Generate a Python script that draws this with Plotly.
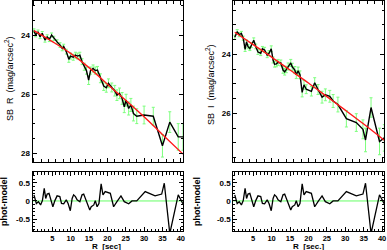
import plotly.graph_objects as go

# ---------------- data ----------------
# R band (left panel)
r_R = [0.0, 0.45, 1.1, 1.65, 2.25, 3.0, 3.6, 4.2, 4.8, 5.4, 6.3, 7.1, 7.7, 8.1, 8.8,
       9.5, 9.95, 10.7, 11.3, 11.9, 12.5, 13.1, 13.7, 14.3, 14.9, 15.4, 16.1, 16.7,
       17.3, 18.1, 19.0, 19.7, 20.3, 21.2, 22.0, 22.6, 23.3, 24.0, 24.6, 25.1, 25.8,
       26.4, 27.1, 28.0, 30.0, 32.5, 35.0, 37.0, 39.3, 40.6]
sb_R = [23.85, 24.0, 23.89, 24.06, 23.94, 24.17, 24.06, 24.15, 24.0, 24.11, 24.23,
        24.34, 24.45, 24.39, 24.56, 24.82, 24.71, 24.75, 24.68, 24.71, 24.68, 24.9,
        25.07, 25.2, 25.52, 25.2, 25.13, 25.2, 25.18, 25.46, 25.72, 25.78, 25.63,
        25.77, 25.88, 26.03, 25.97, 26.14, 26.42, 26.2, 26.48, 26.36, 26.65, 26.74,
        26.7, 26.74, 27.74, 26.94, 27.44, 27.44]
err_R = [0.06, 0.06, 0.06, 0.06, 0.06, 0.07, 0.07, 0.07, 0.07, 0.07, 0.07, 0.08, 0.08,
         0.08, 0.08, 0.1, 0.1, 0.1, 0.1, 0.1, 0.1, 0.1, 0.12, 0.12, 0.15, 0.12, 0.12,
         0.12, 0.12, 0.15, 0.15, 0.15, 0.15, 0.15, 0.18, 0.18, 0.18, 0.2, 0.2, 0.2,
         0.22, 0.22, 0.25, 0.25, 0.3, 0.3, 0.38, 0.35, 0.45, 0.45]

# I band (right panel)
r_I = [0.0, 0.65, 1.2, 1.8, 2.3, 2.8, 3.2, 3.6, 4.1, 4.5, 5.15, 5.7, 6.3, 7.05, 7.5,
       8.1, 8.8, 9.3, 9.9, 10.4, 10.8, 11.3, 11.75, 12.5, 13.1, 13.55, 14.0, 14.5,
       15.2, 15.6, 16.3, 16.7, 17.2, 17.7, 18.3, 18.8, 19.4, 20.8, 21.7, 22.6, 23.7,
       24.6, 25.8, 26.7, 28.0, 30.3, 33.0, 34.8, 35.5, 37.0, 39.3, 40.6]
sb_I = [23.42, 23.23, 23.33, 23.29, 23.45, 23.83, 23.58, 23.74, 23.80, 23.69, 23.52,
        23.73, 23.92, 23.96, 23.81, 23.85, 24.02, 23.96, 23.81, 24.19, 24.33, 24.32,
        24.27, 24.29, 24.53, 24.59, 24.51, 24.41, 24.29, 24.42, 24.53, 24.69, 24.56,
        24.69, 25.29, 25.03, 25.18, 25.25, 24.96, 25.19, 25.45, 25.37, 25.42, 25.58,
        25.70, 26.18, 26.31, 26.54, 26.90, 25.80, 26.95, 26.83]
err_I = [0.07, 0.07, 0.07, 0.07, 0.07, 0.07, 0.07, 0.07, 0.07, 0.08, 0.08, 0.08, 0.08,
         0.08, 0.08, 0.09, 0.09, 0.09, 0.1, 0.1, 0.1, 0.1, 0.1, 0.1, 0.11, 0.11, 0.11,
         0.12, 0.12, 0.12, 0.12, 0.13, 0.13, 0.13, 0.15, 0.15, 0.15, 0.16, 0.17, 0.17,
         0.2, 0.2, 0.2, 0.22, 0.25, 0.28, 0.3, 0.32, 0.4, 0.33, 0.45, 0.45]

# residuals (phot - model); identical in both lower panels of the reference
resid = [0.17, -0.07, -0.02, -0.11, 0.01, 0.35, 0.07, 0.19, 0.21, 0.07, -0.16, 0.01,
         0.14, 0.12, -0.07, -0.08, 0.03, -0.07, -0.27, 0.07, 0.17, 0.12, 0.03, -0.02,
         0.17, 0.19, 0.07, -0.07, -0.25, -0.16, -0.11, 0.01, -0.16, -0.07, 0.47, 0.17,
         0.26, 0.21, -0.16, -0.02, 0.14, -0.02, -0.08, 0.0, 0.0, 0.26, 0.14, 0.19, 0.49,
         -0.9, 0.17, -0.08]

# model profiles
r_model = [0, 5, 10, 15, 20, 25, 30, 35, 40.6]
model_R = [23.85, 24.22, 24.62, 25.1, 25.66, 26.2, 26.76, 27.36, 28.02]
model_I = [23.25, 23.67, 24.09, 24.53, 24.97, 25.43, 25.89, 26.36, 26.91]

x_ticks = [5, 10, 15, 20, 25, 30, 35, 40]
x_ticktext = ["5", "10", "15", "20", "25", "30", "35", "40"]
res_ticks = [-0.5, 0, 0.5]
res_ticktext = ["-0.5", "0", "0.5"]

# ---------------- styling ----------------
W, H = 387, 250
FONT = "Liberation Sans, Arial, Helvetica, sans-serif"
GREEN_ERR = "#7dff7d"
GREEN_LINE = "#66ff66"

def px_x(p):
    return p / W

def px_y(p):
    return 1 - p / H

XRANGE = [-0.4, 40.6]
dom_left = [px_x(32.5), px_x(183)]
dom_right = [px_x(233.3), px_x(384.3)]
dom_top = [px_y(161.5), px_y(1)]
dom_bot = [px_y(231), px_y(172)]

tickfont = dict(family=FONT, size=8, color="black", weight="bold")
xtickfont = dict(family=FONT, size=7.5, color="black", weight="bold")

def base_axis(**kw):
    d = dict(showline=True, linecolor="black", linewidth=1, mirror="allticks",
             ticks="inside", ticklen=4, tickwidth=1, tickcolor="black",
             showgrid=False, zeroline=False, tickfont=tickfont, automargin=False)
    d.update(kw)
    return d

fig = go.Figure()

def add_panel(r, sb, err, rm, model, xa, ya):
    fig.add_trace(go.Scatter(x=r, y=sb, mode="markers",
                             marker=dict(size=1, color="rgba(0,0,0,0)"),
                             error_y=dict(type="data", array=err, visible=True,
                                          color=GREEN_ERR, thickness=1, width=1.5),
                             xaxis=xa, yaxis=ya, showlegend=False, hoverinfo="skip"))
    fig.add_trace(go.Scatter(x=r, y=sb, mode="lines",
                             line=dict(color="black", width=1.4),
                             xaxis=xa, yaxis=ya, showlegend=False))
    fig.add_trace(go.Scatter(x=rm, y=model, mode="lines",
                             line=dict(color="#ff1a1a", width=1.4, shape="spline"),
                             xaxis=xa, yaxis=ya, showlegend=False))

add_panel(r_R, sb_R, err_R, r_model, model_R, "x", "y")
add_panel(r_I, sb_I, err_I, r_model, model_I, "x3", "y3")

for xa, ya in (("x2", "y2"), ("x4", "y4")):
    fig.add_shape(type="line", xref=xa + " domain", yref=ya, x0=0, x1=1, y0=0, y1=0,
                  line=dict(color=GREEN_LINE, width=1), layer="below")
    fig.add_trace(go.Scatter(x=r_I, y=resid, mode="lines",
                             line=dict(color="black", width=1.3),
                             xaxis=xa, yaxis=ya, showlegend=False))

top_x = dict(range=XRANGE, tickmode="linear", tick0=0, dtick=10, showticklabels=False,
             minor=dict(dtick=2, tick0=0, ticklen=2.5, ticks="inside", tickcolor="black"))
bot_x = dict(range=XRANGE, tickmode="array", tickvals=x_ticks, ticktext=x_ticktext,
             tickfont=xtickfont,
             minor=dict(dtick=1, tick0=0, ticklen=2.5, ticks="inside", tickcolor="black"))
top_y_minor = dict(dtick=0.5, tick0=0, ticklen=2.5, ticks="inside", tickcolor="black")
bot_y = dict(range=[-0.83, 0.8], tickmode="array", tickvals=res_ticks,
             ticktext=res_ticktext,
             minor=dict(dtick=0.1, tick0=0, ticklen=2, ticks="inside", tickcolor="black"))

fig.update_layout(
    width=W, height=H,
    margin=dict(l=0, r=0, t=0, b=0),
    paper_bgcolor="white", plot_bgcolor="white",
    showlegend=False,
    xaxis=base_axis(domain=dom_left, anchor="y", **top_x),
    yaxis=base_axis(domain=dom_top, anchor="x", range=[28.27, 22.85],
                    tickmode="linear", tick0=0, dtick=2, minor=top_y_minor),
    xaxis2=base_axis(domain=dom_left, anchor="y2", **bot_x),
    yaxis2=base_axis(domain=dom_bot, anchor="x2", **bot_y),
    xaxis3=base_axis(domain=dom_right, anchor="y3", **top_x),
    yaxis3=base_axis(domain=dom_top, anchor="x3", range=[27.63, 22.19],
                     tickmode="linear", tick0=0, dtick=2, minor=top_y_minor),
    xaxis4=base_axis(domain=dom_right, anchor="y4", **bot_x),
    yaxis4=base_axis(domain=dom_bot, anchor="x4", **bot_y),
)

nb = "\u00a0"
title_font = dict(family=FONT, size=9, color="black")
bold_font = dict(family=FONT, size=9, color="black", weight="bold")
xtitle_font = dict(family=FONT, size=8, color="black", weight="bold")
annots = [
    dict(text=f"SB{nb}{nb}R{nb}{nb}(mag/arcsec<sup>2</sup>)", x=px_x(9), y=px_y(79),
         textangle=-90, font=title_font),
    dict(text=f"SB{nb}{nb}I{nb}{nb}(mag/arcsec<sup>2</sup>)", x=px_x(210), y=px_y(85),
         textangle=-90, font=title_font),
    dict(text="phot-model", x=px_x(4), y=px_y(202), textangle=-90, font=bold_font),
    dict(text="phot-model", x=px_x(197), y=px_y(202), textangle=-90, font=bold_font),
    dict(text=f"R{nb}{nb}[sec]", x=px_x(107), y=px_y(246.5), font=xtitle_font),
    dict(text=f"R{nb}{nb}[sec.]", x=px_x(308), y=px_y(246.5), font=xtitle_font),
]
for a in annots:
    a.update(xref="paper", yref="paper", showarrow=False, xanchor="center",
             yanchor="middle")
    fig.add_annotation(**a)

fig.write_html("out.html",
               config={"displayModeBar": False},
               post_script="document.body.style.margin='0';"
                           "document.body.style.padding='0';"
                           "document.body.style.overflow='hidden';")
